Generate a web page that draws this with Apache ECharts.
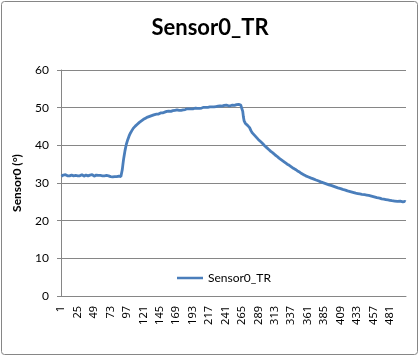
<!DOCTYPE html>
<html>
<head>
<meta charset="utf-8">
<script src="https://cdn.jsdelivr.net/npm/echarts@6/dist/echarts.min.js"></script>
<style>
html,body{margin:0;padding:0;background:#fff;}
#c{width:420px;height:357px;}
</style>
</head>
<body>
<div id="c"></div>
<script>
// Sensor0_TR readings (row index 1..504)
const baseline = [
31.8,32.0,31.9,32.1,31.8,31.9,32.2,32.0,31.8,31.9,32.1,32.0,31.9,31.7,31.9,32.1,32.0,31.8,31.9,32.0,32.2,32.0,31.9,31.8,
31.9,32.0,32.1,31.9,31.8,32.0,32.2,32.1,31.9,31.8,31.9,32.0,32.1,32.2,32.0,31.9,31.8,32.0,32.1,31.9,32.0,32.2,32.1,31.9,
31.8,31.9,32.0,32.1,31.9,31.8,32.0,31.9,32.1,32.0,31.8,31.7,31.9,32.0,32.1,31.9,31.8,31.9,32.0,31.8,31.7,31.9,32.0,31.8,
31.7,31.9,31.8,31.6,31.8,31.9,31.7,31.6,31.8,31.7,31.5,31.6,31.8,31.5,31.6,31.7
];
const rise = [
32.0,33.5,35.0,36.4,37.5,38.6,39.5,40.3,
40.9,41.5,42.0,42.5,42.9,43.3,43.6,43.9,44.2,44.5,44.7,44.9,45.1,45.3,45.5,45.6,45.8,46.0,46.1,46.2,46.4,46.5,46.6,46.8,
46.9,47.0,47.0,47.2,47.3,47.3,47.5,47.5,47.6,47.7,47.7,47.8,47.9,47.9,48.0,48.1,48.0,48.2,48.2,48.3,48.3,48.4,48.3,48.5
];
const plateau = [
48.5,48.6,48.5,48.7,48.6,48.8,48.7,48.8,48.9,48.8,49.0,48.9,49.0,49.1,48.9,49.1,49.0,49.2,49.1,49.2,49.3,49.1,49.3,49.2,
49.3,49.4,49.2,49.4,49.3,49.5,49.4,49.3,49.5,49.6,49.4,49.5,49.6,49.5,49.4,49.6,49.7,49.5,49.6,49.7,49.6,49.5,49.7,49.8,
49.6,49.7,49.8,49.7,49.9,49.8,49.6,49.8,49.9,50.0,49.8,49.9,50.0,49.9,49.8,50.0,50.1,49.9,50.0,50.1,50.0,50.2,50.1,49.9,
50.0,50.2,50.1,50.0,50.2,50.3,50.1,50.2,50.4,50.2,50.3,50.1,50.3,50.4,50.2,50.3,50.5,50.4,50.2,50.4,50.5,50.3,50.6,50.4,
50.5,50.7,50.4,50.6,50.5,50.7,50.8,50.5,50.6,50.9,50.7,50.5,50.8,50.6,50.9,50.7,50.8,51.0,50.7,50.9,50.8,51.0,50.7,50.9,
50.8
];
const decay = [
49.0,47.5,46.5,46.0,45.8,45.6,45.5,45.3,45.2,45.0,44.7,44.3,43.9,43.6,43.3,43.1,42.9,42.7,42.5,42.3,42.1,41.9,41.7,
41.5,41.4,41.2,41.0,40.8,40.7,40.5,40.3,40.1,39.9,39.8,39.6,39.4,39.3,39.1,38.9,38.8,38.6,38.4,38.3,38.1,38.0,37.8,37.7,
37.5,37.4,37.2,37.1,36.9,36.8,36.6,36.5,36.4,36.2,36.1,36.0,35.8,35.7,35.6,35.4,35.3,35.2,35.0,34.9,34.8,34.7,34.5,34.4,
34.3,34.2,34.1,33.9,33.8,33.7,33.6,33.4,33.3,33.2,33.1,33.0,32.9,32.8,32.6,32.5,32.4,32.3,32.2,32.1,32.0,31.9,31.8,31.7,
31.7,31.6,31.5,31.4,31.4,31.3,31.2,31.2,31.1,31.0,30.9,30.9,30.8,30.7,30.7,30.6,30.5,30.4,30.4,30.3,30.2,30.2,30.1,30.0,
30.0,29.9,29.9,29.8,29.7,29.7,29.6,29.5,29.5,29.4,29.4,29.3,29.2,29.2,29.1,29.0,29.0,28.9,28.9,28.8,28.7,28.7,28.6,28.6,
28.5,28.5,28.4,28.3,28.3,28.2,28.2,28.1,28.0,28.0,27.9,27.9,27.8,27.8,27.7,27.7,27.6,27.6,27.5,27.5,27.4,27.4,27.3,27.3,
27.3,27.2,27.2,27.2,27.1,27.1,27.1,27.0,27.0,27.0,27.0,26.9,26.9,26.9,26.8,26.8,26.8,26.7,26.7,26.6,26.6,26.5,26.5,26.4,
26.4,26.3,26.3,26.2,26.2,26.1,26.1,26.0,26.0,26.0,25.9,25.9,25.8,25.8,25.8,25.7,25.7,25.7,25.6,25.6,25.6,25.5,25.5,25.5,
25.4,25.5,25.4,25.3,25.4,25.3,25.3,25.2,25.3,25.2,25.2,25.1,25.2,25.1,25.1,25.2,25.0,25.1,25.1,25.0,25.1,25.0,25.1,25.0
];
const seriesName = 'Sensor0_TR';
const yTicks = [0, 10, 20, 30, 40, 50, 60];

const values = baseline.concat(rise, plateau, decay);
const categories = values.map((v, i) => String(i + 1));

const chart = echarts.init(document.getElementById('c'), null, {renderer: 'canvas'});
const gray = '#868686';
const blue = '#4a7ebb';
chart.setOption({
  animation: false,
  backgroundColor: '#fff',
  graphic: [{
    type: 'rect', shape: {x: 1.5, y: 1.5, width: 416, height: 353, r: 3},
    style: {fill: 'none', stroke: gray, lineWidth: 1}, z: -1
  }],
  title: {
    text: 'Sensor0_TR', left: 'center', top: 12,
    textStyle: {fontFamily: 'Lato', fontWeight: 'bold', fontSize: 22, color: '#000'}
  },
  legend: {
    data: [{name: seriesName, icon: 'rect'}], left: 172, top: 267,
    itemWidth: 26, itemHeight: 2.5, itemGap: 4,
    itemStyle: {color: blue},
    textStyle: {fontFamily: 'Lato', fontSize: 12, color: '#000'}
  },
  grid: {left: 61, top: 70, width: 345, height: 226, containLabel: false},
  xAxis: {
    type: 'category', data: categories, boundaryGap: true,
    axisLine: {lineStyle: {color: gray}},
    axisTick: {show: false},
    axisLabel: {interval: 23, rotate: 90, fontFamily: 'Noto Sans', fontSize: 11, color: '#000', margin: 10},
    splitLine: {show: false}
  },
  yAxis: {
    type: 'value', min: yTicks[0], max: yTicks[yTicks.length - 1], interval: 10,
    name: 'Sensor0 (°)', nameLocation: 'middle', nameGap: 38, nameRotate: 90,
    nameTextStyle: {fontFamily: 'Lato', fontWeight: 'bold', fontSize: 12, color: '#000'},
    axisLine: {show: true, lineStyle: {color: gray}},
    axisTick: {show: true, length: 4, lineStyle: {color: gray}},
    axisLabel: {fontFamily: 'Lato', fontSize: 12, color: '#000', margin: 12},
    splitLine: {lineStyle: {color: gray, width: 1}}
  },
  series: [{
    name: seriesName, type: 'line', data: values,
    showSymbol: false, symbol: 'none',
    lineStyle: {color: blue, width: 2.8},
    itemStyle: {color: blue}
  }]
});
</script>
</body>
</html>
